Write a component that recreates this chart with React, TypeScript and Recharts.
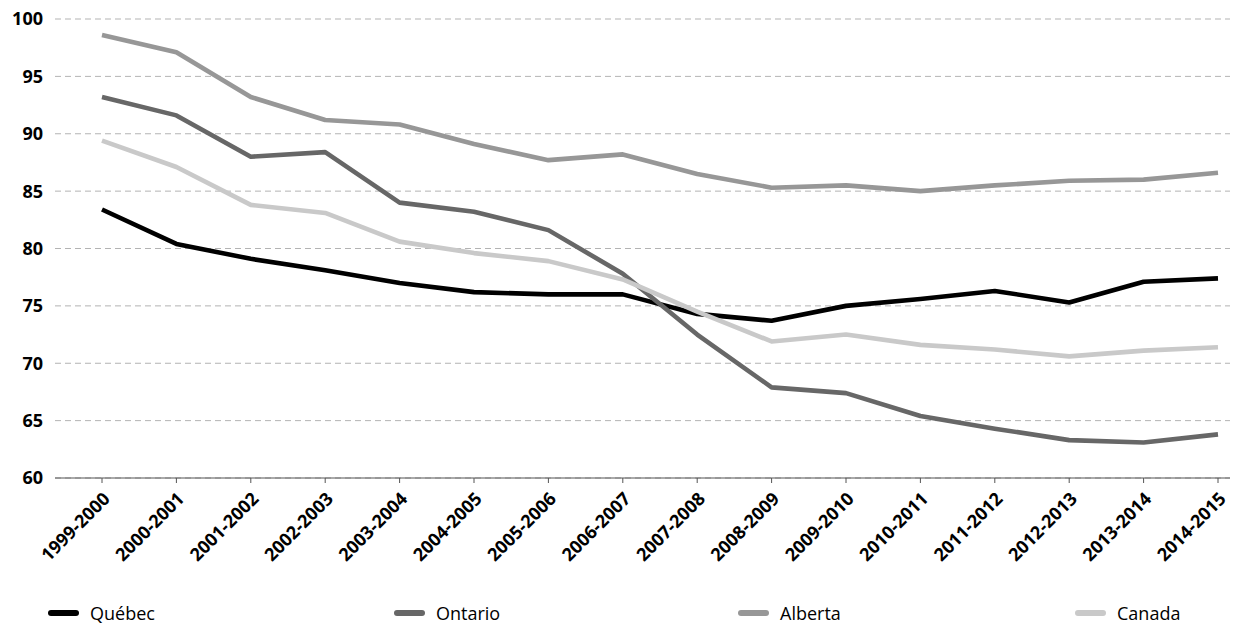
import React from "react";
import { LineChart, Line, XAxis, YAxis, CartesianGrid, Legend } from "recharts";

const years = [
  "1999-2000", "2000-2001", "2001-2002", "2002-2003", "2003-2004", "2004-2005",
  "2005-2006", "2006-2007", "2007-2008", "2008-2009", "2009-2010", "2010-2011",
  "2011-2012", "2012-2013", "2013-2014", "2014-2015",
];

const quebec = [83.4, 80.4, 79.1, 78.1, 77.0, 76.2, 76.0, 76.0, 74.3, 73.7, 75.0, 75.6, 76.3, 75.3, 77.1, 77.4];
const ontario = [93.2, 91.6, 88.0, 88.4, 84.0, 83.2, 81.6, 77.8, 72.5, 67.9, 67.4, 65.4, 64.3, 63.3, 63.1, 63.8];
const alberta = [98.6, 97.1, 93.2, 91.2, 90.8, 89.1, 87.7, 88.2, 86.5, 85.3, 85.5, 85.0, 85.5, 85.9, 86.0, 86.6];
const canada = [89.4, 87.1, 83.8, 83.1, 80.6, 79.6, 78.9, 77.3, 74.5, 71.9, 72.5, 71.6, 71.2, 70.6, 71.1, 71.4];

const yTicks = [60, 65, 70, 75, 80, 85, 90, 95, 100];

const series = [
  { key: "quebec", name: "Québec", color: "#000000" },
  { key: "ontario", name: "Ontario", color: "#676767" },
  { key: "alberta", name: "Alberta", color: "#979797" },
  { key: "canada", name: "Canada", color: "#c9c9c9" },
];

// left edge of each legend entry
const legendLeft = [48, 394, 738, 1075];

const data = years.map((year, i) => ({
  year,
  quebec: quebec[i],
  ontario: ontario[i],
  alberta: alberta[i],
  canada: canada[i],
}));

const FONT = "'Open Sans', sans-serif";

const YearTick = ({ x, y, payload }: any) => (
  <g transform={`translate(${x + 9},${y + 15})`}>
    <text
      textAnchor="end"
      transform="rotate(-45)"
      fontFamily={FONT}
      fontWeight={700}
      fontSize={18}
      fill="#000"
    >
      {payload.value}
    </text>
  </g>
);

const LegendContent = () => (
  <div style={{ position: "relative", height: 40, fontFamily: FONT, fontSize: 18 }}>
    {series.map((s, i) => (
      <div
        key={s.key}
        style={{ position: "absolute", left: legendLeft[i], top: 15, display: "flex", alignItems: "center", whiteSpace: "nowrap" }}
      >
        <span style={{ width: 31, height: 6, borderRadius: 3, background: s.color, marginRight: 11 }} />
        <span style={{ color: "#000" }}>{s.name}</span>
      </div>
    ))}
  </div>
);

export default function App() {
  return (
    <div style={{ position: "absolute", left: 0, top: 0, background: "#fff" }}>
      <LineChart width={1236} height={626} data={data} margin={{ top: 19, right: 6, left: 0, bottom: 0 }}>
        <CartesianGrid vertical={false} stroke="#b3b3b3" strokeDasharray="6 4" />
        <XAxis
          dataKey="year"
          scale="point"
          padding={{ left: 47, right: 12 }}
          height={108}
          stroke="#555"
          tickSize={5}
          tick={<YearTick />}
          interval={0}
        />
        <YAxis
          width={55}
          domain={[60, 100]}
          ticks={yTicks}
          axisLine={false}
          tickLine={false}
          tickMargin={6}
          tick={{ fontFamily: FONT, fontWeight: 700, fontSize: 18, fill: "#000" }}
        />
        <Legend
          verticalAlign="bottom"
          align="left"
          wrapperStyle={{ left: 0, width: 1236 }}
          content={<LegendContent />}
        />
        {series.map((s) => (
          <Line
            key={s.key}
            type="linear"
            dataKey={s.key}
            name={s.name}
            stroke={s.color}
            strokeWidth={4.6}
            strokeLinejoin="round"
            dot={false}
            activeDot={false}
            isAnimationActive={false}
          />
        ))}
      </LineChart>
    </div>
  );
}
